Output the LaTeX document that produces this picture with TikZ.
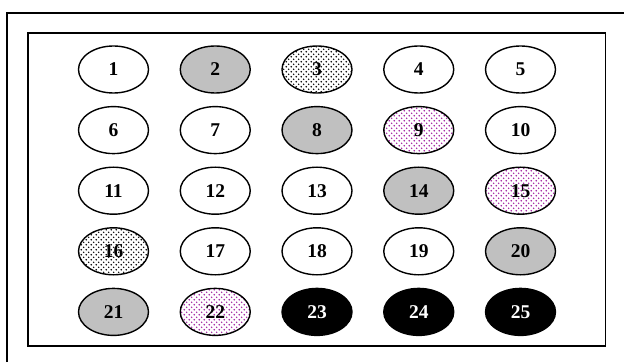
\documentclass[tikz,border=0pt]{standalone}
\usepackage{fontspec}
\setmainfont{Liberation Serif}
\usetikzlibrary{shapes.geometric,patterns}
\definecolor{grayfill}{HTML}{C0C0C0}
\definecolor{dotmag}{HTML}{A020A0}
\pgfdeclarepatternformonly{sdots}{\pgfpointorigin}{\pgfpoint{5.4pt}{5.4pt}}{\pgfpoint{5.4pt}{5.4pt}}{%
  \pgfpathcircle{\pgfpoint{1.35pt}{1.35pt}}{0.9pt}%
  \pgfpathcircle{\pgfpoint{4.05pt}{4.05pt}}{0.9pt}%
  \pgfusepath{fill}}
\tikzset{
  cell/.style={ellipse, draw, line width=1.4pt, minimum width=70pt, minimum height=47pt,
    inner sep=0pt, font=\fontsize{19.5}{19.5}\selectfont\bfseries},
  plain/.style={cell, fill=white},
  grey/.style={cell, fill=grayfill},
  bdots/.style={cell, pattern=sdots, pattern color=black},
  mdots/.style={cell, pattern=sdots, pattern color=dotmag},
  dark/.style={cell, fill=black, text=white},
  frame/.style={line width=1.8pt}
}
\begin{document}
\begin{tikzpicture}[x=1pt,y=1pt]
\useasboundingbox (0,0) rectangle (624,362);
\fill[white] (0,0) rectangle (624,362);
\draw[frame] (7,0) -- (7,349) -- (624,349);
\draw[frame] (28,16) rectangle (605.5,329);
\node[plain] (n1) at (113.5,292.5) {1};
\node[grey]  (n2) at (215.25,292.5) {2};
\node[bdots] (n3) at (317,292.5) {3};
\node[plain] (n4) at (418.75,292.5) {4};
\node[plain] (n5) at (520.5,292.5) {5};
\node[plain] (n6) at (113.5,231.9) {6};
\node[plain] (n7) at (215.25,231.9) {7};
\node[grey]  (n8) at (317,231.9) {8};
\node[mdots] (n9) at (418.75,231.9) {9};
\node[plain] (n10) at (520.5,231.9) {10};
\node[plain] (n11) at (113.5,171.3) {11};
\node[plain] (n12) at (215.25,171.3) {12};
\node[plain] (n13) at (317,171.3) {13};
\node[grey]  (n14) at (418.75,171.3) {14};
\node[mdots] (n15) at (520.5,171.3) {15};
\node[bdots] (n16) at (113.5,110.7) {16};
\node[plain] (n17) at (215.25,110.7) {17};
\node[plain] (n18) at (317,110.7) {18};
\node[plain] (n19) at (418.75,110.7) {19};
\node[grey]  (n20) at (520.5,110.7) {20};
\node[grey]  (n21) at (113.5,50.1) {21};
\node[mdots] (n22) at (215.25,50.1) {22};
\node[dark]  (n23) at (317,50.1) {23};
\node[dark]  (n24) at (418.75,50.1) {24};
\node[dark]  (n25) at (520.5,50.1) {25};
\end{tikzpicture}
\end{document}
